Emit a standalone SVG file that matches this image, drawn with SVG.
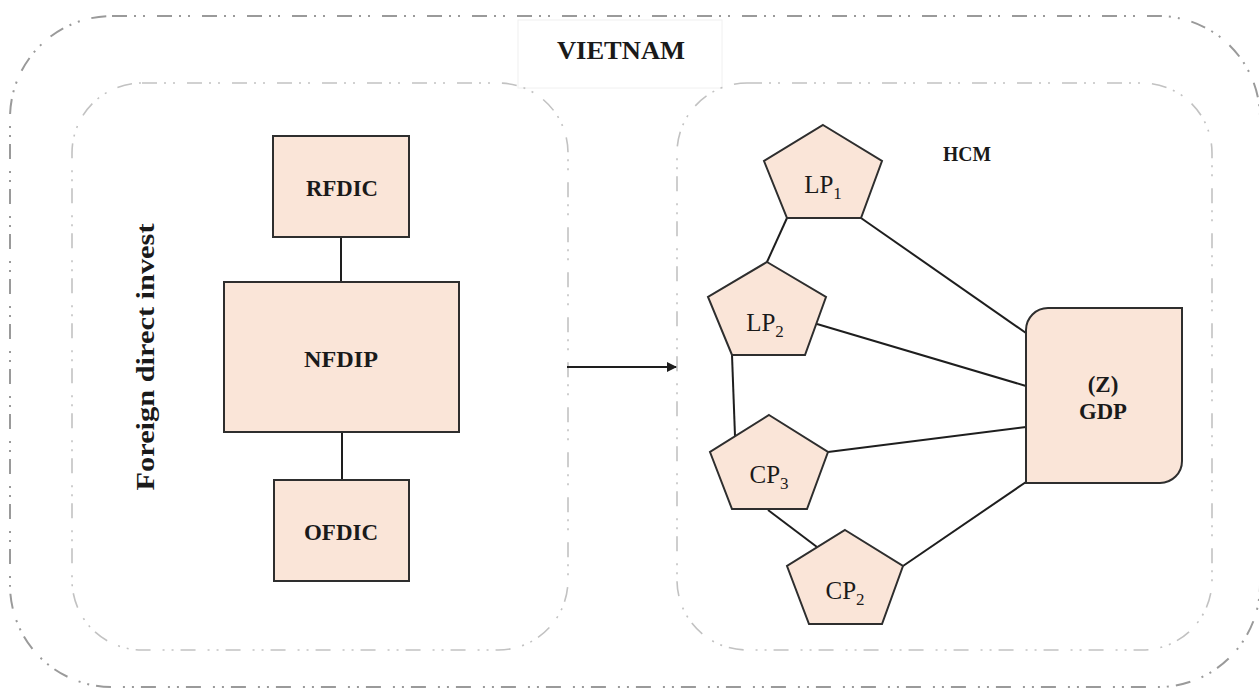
<svg xmlns="http://www.w3.org/2000/svg" width="1259" height="689" viewBox="0 0 1259 689">
<style>
.frame{fill:none;stroke-dasharray:15 7 2 7 2 12;stroke-linecap:butt}
.outer{stroke:#9a9a9a;stroke-width:2}
.inner{stroke:#c2c2c2;stroke-width:1.6}
.node{fill:#fae5d8;stroke:#2e2e2e;stroke-width:2}
.bold{font-family:"Liberation Serif","DejaVu Serif",serif;font-weight:bold;fill:#1a1a1a;text-anchor:middle}
.reg{font-family:"Liberation Serif","DejaVu Serif",serif;fill:#1a1a1a;text-anchor:middle;font-size:25px}
.sub{font-size:17px}
.link{stroke:#1e1e1e;stroke-width:2;fill:none}
</style>
<defs>
<marker id="ah" viewBox="0 0 10 10" refX="9" refY="5" markerWidth="5" markerHeight="5" orient="auto" markerUnits="strokeWidth">
<path d="M0,0 L10,5 L0,10 z" fill="#1e1e1e"/>
</marker>
</defs>
<rect width="1259" height="689" fill="#ffffff"/>
<g id="vietnam">
<rect class="frame outer" x="10" y="16" width="1250" height="671" rx="102" ry="102"/>
<rect x="518" y="20" width="204" height="68" fill="#ffffff" stroke="#f0f0f0" stroke-width="1"/>
<text class="bold" x="621" y="59" font-size="25" textLength="128" lengthAdjust="spacingAndGlyphs">VIETNAM</text>
</g>
<g id="fdi-panel">
<rect class="frame inner" x="72" y="83" width="496" height="567" rx="70" ry="70"/>
<text class="bold" font-size="26" transform="translate(154,357) rotate(-90)" textLength="267" lengthAdjust="spacingAndGlyphs">Foreign direct invest</text>
</g>
<g id="hcm-panel">
<rect class="frame inner" x="677" y="83" width="535" height="567" rx="70" ry="70"/>
<text class="bold" x="967" y="161" font-size="22" textLength="48" lengthAdjust="spacingAndGlyphs">HCM</text>
</g>
<g id="connectors">
<line class="link" x1="341" y1="237" x2="341" y2="282"/>
<line class="link" x1="342" y1="432" x2="342" y2="480"/>
<line class="link" x1="567" y1="367" x2="676" y2="367" marker-end="url(#ah)"/>
<line class="link" x1="787" y1="218" x2="767" y2="262"/>
<line class="link" x1="732" y1="355" x2="735" y2="436"/>
<line class="link" x1="768" y1="510" x2="817" y2="547"/>
<line class="link" x1="861" y1="218" x2="1026" y2="333"/>
<line class="link" x1="817" y1="324" x2="1026" y2="386"/>
<line class="link" x1="828" y1="452" x2="1026" y2="427"/>
<line class="link" x1="903" y1="566" x2="1026" y2="482"/>
</g>
<g id="rfdic">
<rect class="node" x="273" y="136" width="136" height="101"/>
<text class="bold" x="342" y="196" font-size="24" textLength="72" lengthAdjust="spacingAndGlyphs">RFDIC</text>
</g>
<g id="nfdip">
<rect class="node" x="224" y="282" width="235" height="150"/>
<text class="bold" x="341" y="367" font-size="24" textLength="74" lengthAdjust="spacingAndGlyphs">NFDIP</text>
</g>
<g id="ofdic">
<rect class="node" x="274" y="480" width="135" height="101"/>
<text class="bold" x="341" y="540" font-size="24" textLength="74" lengthAdjust="spacingAndGlyphs">OFDIC</text>
</g>
<g id="lp1">
<polygon class="node" points="823,125 882,161 861,218 787,218 764,161"/>
<text class="reg" x="823" y="193">LP<tspan class="sub" dy="6">1</tspan></text>
</g>
<g id="lp2">
<polygon class="node" points="767,262 826,297 805,355 732,355 708,297"/>
<text class="reg" x="765" y="331">LP<tspan class="sub" dy="6">2</tspan></text>
</g>
<g id="cp3">
<polygon class="node" points="769,415 828,452 807,509 732,509 710,452"/>
<text class="reg" x="769" y="483">CP<tspan class="sub" dy="6">3</tspan></text>
</g>
<g id="cp2">
<polygon class="node" points="845,530 903,566 882,624 809,624 787,566"/>
<text class="reg" x="845" y="599">CP<tspan class="sub" dy="6">2</tspan></text>
</g>
<g id="gdp">
<path class="node" d="M1048,308 H1182 V461 A22,22 0 0 1 1160,483 H1026 V330 A22,22 0 0 1 1048,308 Z"/>
<text class="bold" x="1103" y="392" font-size="23">(Z)</text>
<text class="bold" x="1103" y="419" font-size="23" textLength="48" lengthAdjust="spacingAndGlyphs">GDP</text>
</g>
</svg>
